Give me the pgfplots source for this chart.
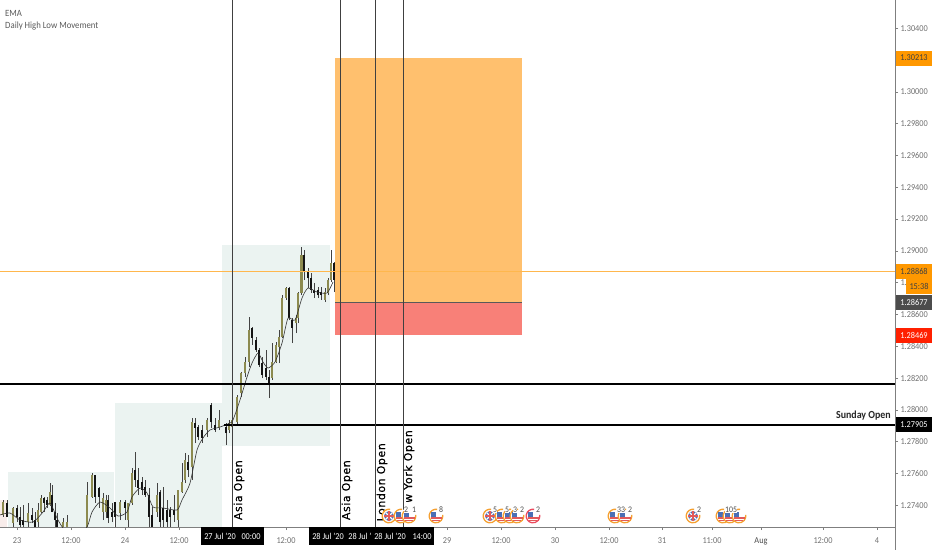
\documentclass[border=0pt]{standalone}
\usepackage{fontspec}
\setmainfont[FakeStretch=0.92]{Carlito}
\newfontfamily\sessionfont[LetterSpace=5,FakeBold=0.3]{DejaVu Sans}
\usepackage{pgfplots}
\usepackage{pgfplotstable}
\pgfplotsset{compat=1.18}
\definecolor{shade}{HTML}{EBF3F1}
\definecolor{pinkshade}{HTML}{F8ECEA}
\definecolor{targetc}{HTML}{FFC06E}
\definecolor{stopc}{HTML}{F88078}
\definecolor{upc}{HTML}{8C8A4F}
\definecolor{downc}{HTML}{141414}
\definecolor{axisc}{HTML}{7F7F7F}
\definecolor{labelc}{HTML}{707070}
\definecolor{pricebg}{HTML}{FF9800}
\definecolor{lastline}{HTML}{FFB74D}
\definecolor{ringorange}{HTML}{F5A030}
\definecolor{ringred}{HTML}{EC4B5F}
\definecolor{flagblue}{HTML}{4A6FB5}
\definecolor{flagred}{HTML}{E25A5A}

% white disc with a ring that is open at the top right, where the count sits
\newcommand{\iconbase}[1]{%
  \pgfsetfillcolor{white}%
  \pgfpathcircle{\pgfpointorigin}{6.8pt}\pgfusepath{fill}%
  \pgfsetlinewidth{1.3pt}\pgfsetstrokecolor{#1}%
  \pgfpathmoveto{\pgfpointpolar{80}{6.8pt}}\pgfpatharc{80}{370}{6.8pt}\pgfusepath{stroke}}
\newcommand{\usface}{%
  \pgfsetfillcolor{flagblue}%
  \pgfpathrectangle{\pgfpoint{-5pt}{-0.5pt}}{\pgfpoint{5pt}{5pt}}\pgfusepath{fill}%
  \pgfsetfillcolor{flagred}%
  \pgfpathrectangle{\pgfpoint{-5.5pt}{-2.5pt}}{\pgfpoint{11pt}{1.4pt}}\pgfusepath{fill}%
  \pgfpathrectangle{\pgfpoint{-4pt}{-5pt}}{\pgfpoint{8pt}{1.4pt}}\pgfusepath{fill}}
\pgfdeclareplotmark{usflag}{\iconbase{ringorange}\usface}
\pgfdeclareplotmark{usflagred}{\iconbase{ringred}\usface}
\pgfdeclareplotmark{ukflag}{%
  \iconbase{ringorange}%
  \pgfsetfillcolor{flagblue}%
  \pgfpathcircle{\pgfpointorigin}{5pt}\pgfusepath{fill}%
  \pgfsetstrokecolor{white}\pgfsetlinewidth{1.3pt}%
  \pgfpathmoveto{\pgfpoint{-3.5pt}{-3.5pt}}\pgfpathlineto{\pgfpoint{3.5pt}{3.5pt}}%
  \pgfpathmoveto{\pgfpoint{-3.5pt}{3.5pt}}\pgfpathlineto{\pgfpoint{3.5pt}{-3.5pt}}\pgfusepath{stroke}%
  \pgfsetfillcolor{white}%
  \pgfpathrectangle{\pgfpoint{-5pt}{-1.2pt}}{\pgfpoint{10pt}{2.4pt}}\pgfusepath{fill}%
  \pgfpathrectangle{\pgfpoint{-1.2pt}{-5pt}}{\pgfpoint{2.4pt}{10pt}}\pgfusepath{fill}%
  \pgfsetfillcolor{flagred}%
  \pgfpathrectangle{\pgfpoint{-5pt}{-0.6pt}}{\pgfpoint{10pt}{1.2pt}}\pgfusepath{fill}%
  \pgfpathrectangle{\pgfpoint{-0.6pt}{-5pt}}{\pgfpoint{1.2pt}{10pt}}\pgfusepath{fill}}

% x = horizontal position on the chart
% prices in points above 1.27000 (339 = 1.27339), a raw 1.27 scale overflows TeX
\pgfplotstableread{
x o h l c
3 339 433 326 420
13 288 389 263 383
28 294 414 263 351
38 294 414 263 370
41 357 465 351 446
50 402 539 395 483
63 263 319 263 294
67 263 339 263 294
87 263 545 263 465
92 452 602 446 590
103 357 477 307 446
106 357 465 319 433
120 351 433 307 420
128 307 414 263 414
132 414 634 402 602
157 357 539 326 465
178 307 496 263 496
182 483 665 477 546
185 558 728 539 684
192 640 949 558 923
207 873 949 829 936
219 886 999 873 936
229 873 936 854 917
232 892 1012 873 936
237 923 1094 911 1081
241 1106 1238 1081 1231
245 1231 1332 1206 1301
249 1301 1584 1269 1502
272 1200 1420 1187 1301
276 1301 1426 1294 1408
279 1395 1502 1294 1458
282 1458 1722 1452 1703
286 1703 1772 1691 1766
296 1546 1596 1483 1577
298 1577 1741 1546 1735
301.5 1735 2024 1722 1973
325 1691 1766 1678 1741
328 1735 1829 1722 1816
331 1816 2005 1804 1923
}\upcandles
\pgfplotstableread{
x o h l c
7 414 433 326 326
17 383 402 294 326
20 326 389 263 275
23 307 402 263 275
32 339 383 288 307
35 307 357 263 263
44 446 452 357 414
47 433 452 383 402
52 465 527 357 357
55 357 414 263 307
57 307 351 263 263
95 590 590 414 452
99 508 515 383 452
108 433 465 288 319
112 357 414 294 326
115 420 420 263 326
125 420 433 307 383
135 621 734 515 558
138 558 634 465 508
142 546 577 465 496
145 515 558 452 465
149 465 508 263 326
152 339 389 263 263
160 483 496 263 294
163 383 515 263 307
167 370 433 263 294
170 370 389 263 326
174 370 465 294 339
188 671 716 577 621
195 917 949 791 886
198 892 904 810 829
202 873 904 791 823
211 1030 1043 886 923
215 904 949 860 873
226 892 917 778 854
252 1515 1521 1408 1452
256 1439 1458 1364 1376
259 1376 1389 1269 1282
262 1294 1332 1200 1219
266 1263 1376 1187 1206
269 1206 1250 1074 1156
289 1766 1772 1565 1577
292 1565 1577 1420 1515
304 1973 2005 1816 1867
308 1867 1892 1766 1829
311 1829 1860 1735 1754
314 1754 1798 1703 1735
318 1754 1772 1703 1722
321 1741 1772 1691 1722
334 1923 1930 1741 1816
}\downcandles
\pgfplotstableread{
x y
0 339
10 351
20 307
33 294
43 357
50 414
57 319
63 257
75 181
87 263
92 357
100 420
110 383
118 332
127 357
132 452
140 508
147 477
153 389
163 383
177 370
182 433
190 539
197 747
203 823
210 873
220 892
230 917
233 936
240 1062
247 1206
252 1294
258 1357
263 1301
268 1263
275 1301
282 1420
288 1577
295 1565
302 1703
308 1766
317 1741
327 1735
333 1804
}\ematable
\pgfplotstableread{
x y lab
406 332 2
414 332 1
441 332 8
495 332 5
507 332 5
515 332 3
522 332 2
538 332 2
621 332 33
630 332 2
699 332 2
729 332 10
735 332 5
}\eventcounts

% price box on the right scale: level, fill, text colour, text
\newcommand{\pricebox}[4]{%
  \fill[#2] (axis cs:896,#1) ++(0pt,7.5pt) rectangle ++(36pt,-15pt);
  \node[font=\fontsize{9}{9}\selectfont,text=#3,inner sep=0pt] at (axis cs:914,#1) {#4};}
% white text in the black date boxes under the time scale
\newcommand{\timelabel}[2]{%
  \node[font=\fontsize{9}{9}\selectfont,text=white,inner sep=0pt] at (axis cs:#1,263) [yshift=-9.5pt] {#2};}
\newcommand{\sessionlabel}[3]{%
  \node[font=\sessionfont\fontsize{11}{11}\selectfont,rotate=90,anchor=east,inner sep=0pt] at (axis cs:#1,#2) {#3};}

\pgfplotsset{
  wick/.style={draw=none,no markers,forget plot,
    error bars/.cd,y dir=plus,y explicit,error mark=none,
    error bar style={draw=downc!80,line width=0.8pt}},
  body/.style={draw=none,no markers,forget plot,
    error bars/.cd,y dir=plus,y explicit,error mark=none,
    error bar style={draw=#1,line width=2.4pt}},
}

\begin{document}
\begin{tikzpicture}
\path[use as bounding box] (0,0) rectangle (932pt,550pt);
\begin{axis}[
    at={(0pt,23pt)},
    anchor=south west,
    scale only axis,
    width=895pt,
    height=527pt,
    xmin=0, xmax=895,
    ymin=263, ymax=3578,
    clip mode=individual,
    axis x line*=bottom,
    axis y line*=right,
    axis line style={draw=axisc,-},
    tick style={draw=axisc,line width=0.6pt},
    tick align=outside,
    major tick length=3pt,
    xtick={17,71,125,179,286,447,501,555,609,662,712,761,823,877},
    xticklabels={23,12:00,24,12:00,12:00,29,12:00,30,12:00,31,11:00,\textcolor{black!70}{Aug},12:00,4},
    ytick={400,600,800,1000,1200,1400,1600,1800,2000,2200,2400,2600,2800,3000,3400},
    yticklabels={1.27400,1.27600,1.27800,1.28000,1.28200,1.28400,1.28600,1.,1.29000,1.29200,1.29400,1.29600,1.29800,1.30000,1.30400},
    tick label style={font=\fontsize{9}{9}\selectfont,text=labelc},
    x tick label style={yshift=-4pt},
    y tick label style={xshift=-1pt},
]
% session ranges
\addplot[fill=pinkshade,draw=none] coordinates {(0,263)(0,433)(7,433)(7,263)} --cycle;
\addplot[fill=shade,draw=none] coordinates {(8,263)(8,608)(114,608)(114,263)} --cycle;
\addplot[fill=shade,draw=none] coordinates {(115,263)(115,1043)(222,1043)(222,263)} --cycle;
\addplot[fill=shade,draw=none] coordinates {(222,772)(222,2036)(330,2036)(330,772)} --cycle;
% trade box
\addplot[fill=targetc,draw=none] coordinates {(335,1677)(335,3213)(522,3213)(522,1677)} --cycle;
\addplot[fill=stopc,draw=none] coordinates {(335,1469)(335,1677)(522,1677)(522,1469)} --cycle;
\addplot[black!65,line width=0.6pt] coordinates {(335,1677)(522,1677)};
% candles
\addplot[wick] table[x=x,y=l,y error expr=\thisrow{h}-\thisrow{l}] {\upcandles};
\addplot[body=upc] table[x=x,y=o,y error expr=\thisrow{c}-\thisrow{o}] {\upcandles};
\addplot[wick] table[x=x,y=l,y error expr=\thisrow{h}-\thisrow{l}] {\downcandles};
\addplot[body=downc] table[x=x,y=c,y error expr=\thisrow{o}-\thisrow{c}] {\downcandles};
% EMA
\addplot[black!80,line width=0.6pt,smooth,tension=0.4] table[x=x,y=y] {\ematable};
% last price
\addplot[draw=lastline,line width=1pt] coordinates {(0,1868)(895,1868)};
% levels
\addplot[black,line width=1.3pt] coordinates {(0,1162)(895,1162)};
\addplot[black,line width=1.3pt] coordinates {(224,905)(895,905)};
% sessions
\addplot[black!75,line width=0.7pt] coordinates {(232,263)(232,3578)};
\addplot[black!75,line width=0.7pt] coordinates {(340,263)(340,3578)};
\addplot[black!75,line width=0.7pt] coordinates {(375,263)(375,3578)};
\addplot[black!75,line width=0.7pt] coordinates {(403,263)(403,3578)};
\sessionlabel{239}{684}{Asia Open}
\sessionlabel{347}{684}{Asia Open}
\sessionlabel{382}{791}{London Open}
\sessionlabel{409}{873}{New York Open}
% economic events
\addplot[only marks,mark=ukflag] coordinates {(389,332)(490,332)(693,332)};
\addplot[only marks,mark=usflag] coordinates {(401,332)(409,332)(436,332)(502,332)(510,332)(517,332)(615,332)(625,332)(723,332)(730,332)(739,332)};
\addplot[only marks,mark=usflagred] coordinates {(533,332)};
% the counts' white ground hides the start of the New York text
\fill[white] (axis cs:404,420) rectangle (axis cs:416,351);
\addplot[draw=none,no markers,point meta=explicit symbolic,nodes near coords,
    every node near coord/.append style={font=\fontsize{8.5}{8.5}\selectfont,text=black!70,anchor=center,fill=white,inner sep=0.4pt,yshift=6.5pt}]
    table[x=x,y=y,meta=lab] {\eventcounts};
% texts
\node[font=\fontsize{9.5}{9.5}\selectfont,text=black!65,anchor=west,inner sep=0pt] at (axis cs:5,3496) {EMA};
\node[font=\fontsize{9.5}{9.5}\selectfont,text=black!65,anchor=west,inner sep=0pt] at (axis cs:5,3414) {Daily High Low Movement};
\node[font=\bfseries\fontsize{10.8}{10.8}\selectfont,text=black!85,anchor=east,inner sep=0pt] at (axis cs:891,961) {Sunday Open};
% price scale boxes
\pricebox{3213}{pricebg}{black!75}{1.30213}
\pricebox{1868}{pricebg}{black!75}{1.28868}
\fill[pricebg] (axis cs:906,1868) ++(0pt,-7.5pt) rectangle ++(26pt,-15pt);
\node[font=\fontsize{9}{9}\selectfont,text=black!75,inner sep=0pt] at (axis cs:919,1868) [yshift=-15pt] {15:38};
\pricebox{1677}{black!70}{white}{1.28677}
\pricebox{1469}{red!75!orange}{white}{1.28469}
\pricebox{905}{black}{white}{1.27905}
% time scale boxes
\draw[axisc,line width=0.6pt] (axis cs:895,263) -- ++(0pt,-23pt);
\fill[black] (axis cs:201,263) rectangle ++(63pt,-18pt);
\fill[black] (axis cs:309,263) rectangle ++(125pt,-18pt);
\timelabel{220}{27 Jul '20}
\timelabel{251}{00:00}
\timelabel{328}{28 Jul '20}
\timelabel{360}{28 Jul '}
\timelabel{390}{28 Jul '20}
\timelabel{422}{14:00}
\end{axis}
\end{tikzpicture}
\end{document}
